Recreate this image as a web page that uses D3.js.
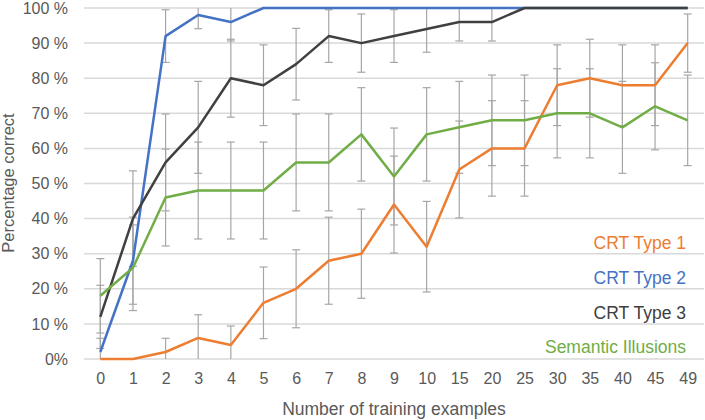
<!DOCTYPE html>
<html>
<head>
<meta charset="utf-8">
<script src="https://cdn.jsdelivr.net/npm/d3@7"></script>
<style>
  body { margin: 0; background: #fff; }
  text { font-family: "Liberation Sans", Arial, sans-serif; }
</style>
</head>
<body>
<div id="chart"></div>
<script>
// categorías del eje x
const examples = ["0","1","2","3","4","5","6","7","8","9","10","15","20","25","30","35","40","45","49"];

// porcentajes
const crt1     = [0, 0, 2, 6, 4, 16, 20, 28, 30, 44, 32, 54, 60, 60, 78, 80, 78, 78, 90];
const crt2     = [2, 28, 92, 98, 96, 100, 100, 100, 100, 100, 100, 100, 100, 100, 100, 100, 100, 100, 100];
const crt3     = [12, 40, 56, 66, 80, 78, 84, 92, 90, 92, 94, 96, 96, 100, 100, 100, 100, 100, 100];
const semantic = [18, 26, 46, 48, 48, 48, 56, 56, 64, 52, 64, 66, 68, 68, 70, 70, 66, 72, 68];

// semiamplitud de las barras de error (puntos porcentuales)
const crt1Err     = [0, 0, 3.9, 6.6, 5.4, 10.2, 11.1, 12.4, 12.7, 13.8, 12.9, 13.8, 13.6, 13.6, 11.5, 11.1, 11.5, 11.5, 8.3];
const crt2Err     = [3.9, 12.4, 7.5, 3.9, 5.4, 0, 0, 0, 0, 0, 0, 0, 0, 0, 0, 0, 0, 0, 0];
const crt3Err     = [9.0, 13.6, 13.8, 13.1, 11.1, 11.5, 10.2, 7.5, 8.3, 7.5, 6.6, 5.4, 5.4, 0, 0, 0, 0, 0, 0];
const semanticErr = [10.6, 12.2, 13.8, 13.8, 13.8, 13.8, 13.8, 13.8, 13.3, 13.8, 13.3, 13.1, 12.9, 12.9, 12.7, 12.7, 13.1, 12.4, 12.9];

const yTicks = [0, 10, 20, 30, 40, 50, 60, 70, 80, 90, 100];

const series = [
  { name: "CRT Type 1", values: crt1, err: crt1Err, color: "#ed7d31" },
  { name: "CRT Type 2", values: crt2, err: crt2Err, color: "#4472c4" },
  { name: "CRT Type 3", values: crt3, err: crt3Err, color: "#404040" },
  { name: "Semantic Illusions", values: semantic, err: semanticErr, color: "#70ad47" }
];

const W = 705, H = 420;
const margin = { top: 8, right: 1, bottom: 61, left: 84 };
const width = W - margin.left - margin.right,
      height = H - margin.top - margin.bottom;

const svg = d3.select("#chart").append("svg")
    .attr("width", W)
    .attr("height", H);

const g = svg.append("g")
    .attr("transform", `translate(${margin.left},${margin.top})`);

// escalas
const x = d3.scalePoint()
  .domain(examples)
  .range([0, width])
  .padding(0.5);

const y = d3.scaleLinear()
  .domain([0, 100])
  .range([height, 0]);

// rejilla horizontal
g.append("g")
  .selectAll("line")
  .data(yTicks)
  .enter().append("line")
    .attr("x1", 0)
    .attr("x2", width)
    .attr("y1", d => y(d))
    .attr("y2", d => y(d))
    .style("stroke", "#d9d9d9")
    .style("stroke-width", 1.5);

// eje y
const yAxis = g.append("g")
  .call(d3.axisLeft(y).tickValues(yTicks).tickSize(0).tickPadding(16)
    .tickFormat(d => d === 0 ? "0%" : d + " %"));
yAxis.select(".domain").remove();
yAxis.selectAll("text")
  .style("font-size", "16px")
  .style("fill", "#595959");

// eje x
const xAxis = g.append("g")
  .attr("transform", `translate(0,${height})`)
  .call(d3.axisBottom(x).tickSize(0).tickPadding(14));
xAxis.select(".domain").remove();
xAxis.selectAll("text")
  .style("font-size", "16px")
  .style("fill", "#595959");

// títulos de ejes
svg.append("text")
  .attr("x", 394)
  .attr("y", 415)
  .attr("text-anchor", "middle")
  .style("font-size", "17.5px")
  .style("fill", "#595959")
  .text("Number of training examples");

svg.append("text")
  .attr("transform", "translate(13.5,183) rotate(-90)")
  .attr("text-anchor", "middle")
  .style("font-size", "16.5px")
  .style("fill", "#595959")
  .text("Percentage correct");

// barras de error
const capW = 4;
series.forEach(s => {
  const eb = g.append("g").style("stroke", "#a6a6a6").style("stroke-width", 1.2);
  s.values.forEach((v, i) => {
    const e = s.err[i];
    if (!e) return;
    const lo = v - e, hi = v + e;
    const cx = x(examples[i]);
    eb.append("line")
      .attr("x1", cx).attr("x2", cx)
      .attr("y1", y(Math.max(lo, 0))).attr("y2", y(Math.min(hi, 100)));
    if (hi <= 100) {
      eb.append("line")
        .attr("x1", cx - capW).attr("x2", cx + capW)
        .attr("y1", y(hi)).attr("y2", y(hi));
    }
    if (lo >= 0) {
      eb.append("line")
        .attr("x1", cx - capW).attr("x2", cx + capW)
        .attr("y1", y(lo)).attr("y2", y(lo));
    }
  });
});

// líneas
const line = d3.line()
  .x((d, i) => x(examples[i]))
  .y(d => y(d));

series.forEach(s => {
  g.append("path")
    .datum(s.values)
    .attr("d", line)
    .style("fill", "none")
    .style("stroke", s.color)
    .style("stroke-width", 2.5)
    .style("stroke-linejoin", "round");
});

// leyenda a la derecha
const legendY = [33, 23, 13, 3.5];
svg.append("g")
  .selectAll("text")
  .data(series)
  .enter().append("text")
    .attr("x", 686)
    .attr("y", (d, i) => margin.top + y(legendY[i]) + 6)
    .attr("text-anchor", "end")
    .style("font-size", "17.5px")
    .style("fill", d => d.color)
    .text(d => d.name);
</script>
</body>
</html>
